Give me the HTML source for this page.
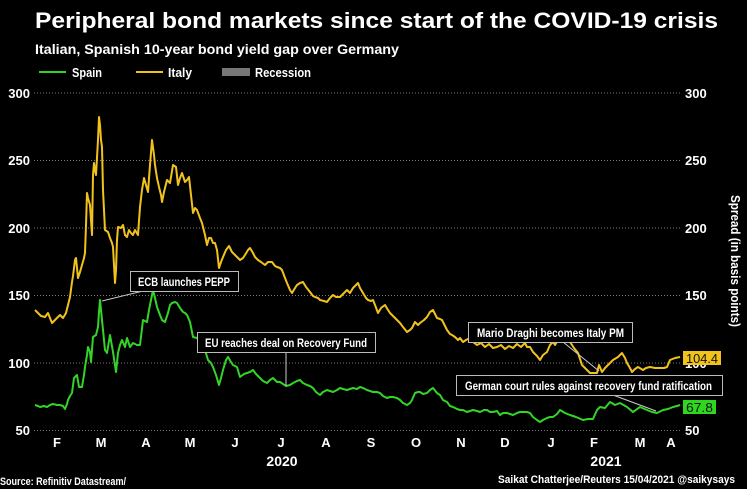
<!DOCTYPE html>
<html><head><meta charset="utf-8"><style>
html,body{margin:0;padding:0;background:#000;}
svg{display:block;}
text{font-family:"Liberation Sans",sans-serif;font-weight:bold;fill:#fff;}
</style></head><body>
<svg width="747" height="489" viewBox="0 0 747 489" xmlns="http://www.w3.org/2000/svg">
<rect width="747" height="489" fill="#000"/>
<text x="35" y="28" font-size="22" textLength="683" lengthAdjust="spacingAndGlyphs">Peripheral bond markets since start of the COVID-19 crisis</text>
<text x="35" y="54" font-size="14" textLength="364" lengthAdjust="spacingAndGlyphs">Italian, Spanish 10-year bond yield gap over Germany</text>
<line x1="39" y1="72" x2="66" y2="72" stroke="#33d428" stroke-width="2"/>
<text x="72" y="77" font-size="13" textLength="30" lengthAdjust="spacingAndGlyphs">Spain</text>
<line x1="136" y1="72" x2="163" y2="72" stroke="#f2c21c" stroke-width="2"/>
<text x="168" y="77" font-size="13" textLength="24" lengthAdjust="spacingAndGlyphs">Italy</text>
<rect x="222" y="68" width="28" height="8" fill="#777"/>
<text x="255" y="77" font-size="13" textLength="56" lengthAdjust="spacingAndGlyphs">Recession</text>
<g stroke="#777" stroke-width="1" stroke-dasharray="1,2">
<line x1="34" y1="93" x2="681" y2="93"/>
<line x1="34" y1="160.5" x2="681" y2="160.5"/>
<line x1="34" y1="228" x2="681" y2="228"/>
<line x1="34" y1="295.5" x2="681" y2="295.5"/>
<line x1="34" y1="363" x2="681" y2="363"/>
<line x1="34" y1="430.5" x2="681" y2="430.5"/>
</g>
<g font-size="13" text-anchor="end">
<text x="30" y="98">300</text><text x="30" y="165">250</text><text x="30" y="233">200</text><text x="30" y="300">150</text><text x="30" y="368">100</text><text x="30" y="435">50</text>
</g>
<g font-size="13">
<text x="685" y="98">300</text><text x="685" y="165">250</text><text x="685" y="233">200</text><text x="685" y="300">150</text><text x="685" y="368">100</text><text x="685" y="435">50</text>
</g>
<text transform="translate(731,261) rotate(90)" font-size="13" text-anchor="middle" textLength="132" lengthAdjust="spacingAndGlyphs">Spread (in basis points)</text>
<g font-size="13" text-anchor="middle">
<text x="57" y="447">F</text><text x="101" y="447">M</text><text x="146" y="447">A</text><text x="190" y="447">M</text><text x="235" y="447">J</text><text x="281" y="447">J</text><text x="326" y="447">A</text><text x="371" y="447">S</text><text x="416" y="447">O</text><text x="461" y="447">N</text><text x="505" y="447">D</text><text x="551" y="447">J</text><text x="594" y="447">F</text><text x="640" y="447">M</text><text x="671" y="447">A</text>
</g>
<g font-size="14" text-anchor="middle">
<text x="282" y="466">2020</text><text x="606" y="466">2021</text>
</g>
<text x="0" y="485" font-size="11" textLength="126" lengthAdjust="spacingAndGlyphs">Source: Refinitiv Datastream/</text>
<text x="498" y="483" font-size="11" textLength="237" lengthAdjust="spacingAndGlyphs">Saikat Chatterjee/Reuters 15/04/2021 @saikysays</text>

<polyline fill="none" stroke="#f2c21c" stroke-width="2" stroke-linejoin="round" points="35,310 38,313 41,316 45,317 48,313 50,318 52,323 55,320 57,318 60,315 63,318 66,313 68,305 70,297 72,282 73,276 75,260 76,258 78,278 80,272 82,265 84,258 85,253 86,225 87,193 88,198 90,205 91,220 92,235 93,175 94,163 95,170 96,175 98,140 99,117 100,125 101,140 102,147 103,190 105,230 108,232 110,238 112,243 113,247 114,265 115,283 116,270 117,240 118,227 121,228 123,225 125,235 127,237 129,230 131,233 133,235 135,230 138,235 140,207 142,190 144,178 146,185 148,192 150,165 152,140 154,155 155,165 157,178 159,187 161,195 162,202 164,192 167,180 170,183 173,165 176,167 178,185 180,178 182,173 185,182 187,180 189,177 191,195 193,213 195,208 197,210 200,218 202,223 205,235 207,245 209,238 211,238 213,243 215,243 217,250 219,268 221,262 223,257 226,250 229,246 232,252 235,255 238,258 240,260 243,258 245,255 248,250 250,248 253,253 255,257 258,260 261,262 265,265 268,262 272,262 275,266 277,267 280,268 282,270 285,278 287,283 290,290 292,293 295,288 297,285 300,283 303,282 306,287 310,292 313,296 315,297 318,298 320,300 324,301 327,302 330,298 333,295 336,297 340,297 343,294 347,290 350,293 353,288 356,285 358,283 360,288 363,293 366,298 368,300 371,301 373,300 375,305 378,313 381,308 385,305 388,310 390,313 393,316 396,319 400,323 403,327 407,332 410,330 412,328 415,322 418,325 420,323 424,320 427,317 430,312 433,310 435,314 437,318 440,319 442,320 445,326 447,330 450,334 452,335 455,337 458,340 460,338 463,342 466,340 470,338 473,342 477,345 481,343 485,347 489,344 493,348 497,347 501,345 505,349 509,346 513,348 517,344 521,347 525,343 527,347 530,347 533,352 537,356 540,360 543,355 547,352 550,345 553,342 555,345 558,340 560,340 563,338 566,341 570,342 574,348 578,353 582,365 586,369 590,373 594,373 597,373 599,365 602,372 605,368 608,365 610,363 613,360 618,357 622,353 625,358 627,363 630,368 632,372 635,369 638,367 643,370 646,368 650,367 655,368 660,368 664,368 667,367 670,360 675,358 680,357"/>

<polyline fill="none" stroke="#33d428" stroke-width="2" stroke-linejoin="round" points="35,405 38,406 40,407 44,406 47,407 50,405 53,404 57,405 60,405 63,406 65,409 67,404 68,400 70,396 72,393 74,378 77,375 79,387 82,387 84,375 85,367 87,355 88,347 90,352 91,362 93,337 96,335 98,327 99,312 100,300 101,310 103,330 105,350 107,353 110,335 113,352 116,372 118,353 120,345 122,340 125,347 127,338 130,347 133,343 137,345 140,345 143,320 147,322 149,310 151,300 153,290 155,298 157,307 160,315 162,320 165,322 168,313 170,305 172,303 175,302 177,303 180,308 183,312 185,313 187,315 190,322 193,337 197,338 200,343 203,348 205,350 208,360 211,363 213,367 216,375 219,385 221,378 223,370 226,360 228,357 231,362 233,365 237,367 240,377 244,374 247,373 250,372 253,370 256,374 260,378 263,381 267,383 270,380 273,378 277,382 280,382 283,384 286,386 290,385 293,383 297,381 300,380 303,383 307,385 310,386 313,388 316,392 320,395 323,392 327,390 330,391 333,392 337,390 340,388 343,389 347,390 350,389 353,388 357,389 360,387 363,388 367,390 370,391 373,392 377,392 380,393 383,396 387,398 390,397 393,397 397,398 400,400 403,403 407,405 410,403 412,400 415,393 418,392 420,392 423,394 427,393 430,390 433,388 437,393 440,395 443,400 447,402 450,406 453,407 457,409 460,410 463,410 467,412 470,411 473,410 477,411 480,412 484,410 487,410 490,412 493,412 497,411 500,415 503,413 507,413 510,414 513,415 517,413 520,412 523,412 527,412 530,413 533,417 537,420 540,422 543,420 547,418 550,417 553,417 557,414 560,410 565,413 570,415 576,417 583,420 588,419 593,419 597,410 600,407 605,408 610,402 615,405 620,403 627,407 633,412 640,407 647,410 652,412 657,413 663,410 668,409 673,407 677,406 680,405"/>

<g stroke="#ccc" stroke-width="1" fill="none">
<line x1="102" y1="301" x2="143" y2="291"/>
<line x1="286" y1="352" x2="286" y2="386"/>
<line x1="563" y1="342" x2="599" y2="371"/>
<line x1="613" y1="395" x2="656" y2="411"/>
</g>
<g stroke="#bbb" stroke-width="1" fill="#000">
<rect x="130.5" y="271.5" width="108" height="20"/>
<rect x="197.5" y="332.5" width="178" height="20"/>
<rect x="468.5" y="322.5" width="164" height="20"/>
<rect x="456.5" y="375.5" width="266" height="20"/>
</g>
<g font-size="11.5">
<text x="138" y="286" textLength="92" lengthAdjust="spacingAndGlyphs">ECB launches PEPP</text>
<text x="205" y="347" textLength="162" lengthAdjust="spacingAndGlyphs">EU reaches deal on Recovery Fund</text>
<text x="477" y="337" textLength="147" lengthAdjust="spacingAndGlyphs">Mario Draghi becomes Italy PM</text>
<text x="465" y="390" textLength="247" lengthAdjust="spacingAndGlyphs">German court rules against recovery fund ratification</text>
</g>
<rect x="683" y="351" width="38" height="14" fill="#f2c21c"/>
<text x="686" y="363" font-size="13" style="fill:#111;font-weight:normal" textLength="32" lengthAdjust="spacingAndGlyphs">104.4</text>
<rect x="683" y="400" width="33" height="14" fill="#2ed81e"/>
<text x="686" y="412" font-size="13" style="fill:#111;font-weight:normal" textLength="27" lengthAdjust="spacingAndGlyphs">67.8</text>
</svg>
</body></html>
